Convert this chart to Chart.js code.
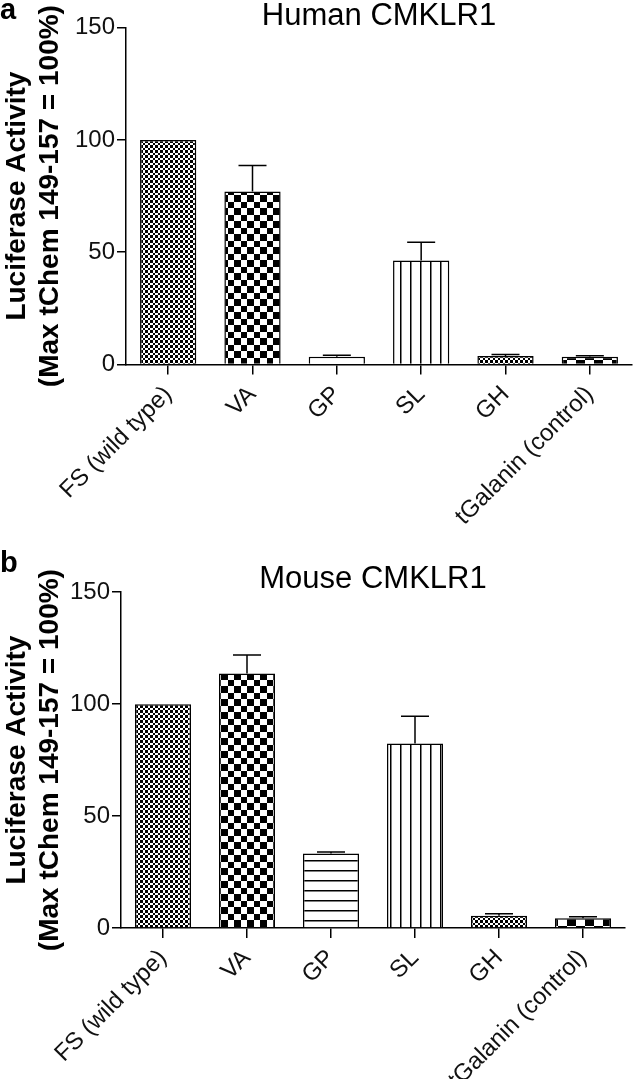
<!DOCTYPE html>
<html>
<head>
<meta charset="utf-8">
<script src="https://cdn.jsdelivr.net/npm/chart.js@4"></script>
<style>
  html, body { margin: 0; padding: 0; background: #fff; overflow: hidden; }
  .panel { position: absolute; left: 0; }
  #panelA { top: 0; }
  #panelB { top: 530px; }
</style>
</head>
<body>
<div class="panel" id="panelA"><canvas id="chartA" width="633" height="530"></canvas></div>
<div class="panel" id="panelB"><canvas id="chartB" width="633" height="549"></canvas></div>
<script>
const categories = ['FS (wild type)', 'VA', 'GP', 'SL', 'GH', 'tGalanin (control)'];
const humanMeans = [100, 77.0, 3.5, 46.3, 3.8, 3.5];
const humanErrors = [0, 11.6, 0.6, 8.1, 0.7, 0.4];
const mouseMeans = [100, 113.7, 33.3, 82.4, 5.5, 4.3];
const mouseErrors = [0, 8.3, 0.6, 12.2, 0.9, 0.7];
const yMin = 0;
const yMax = 150;
const yStep = 50;
const yTitle = ['Luciferase Activity', '(Max tChem 149-157 = 100%)'];

const FONT = "'Liberation Sans', Arial, Helvetica, sans-serif";

// fill patterns, one per bar
function checker(a, b) {
    const size = a + b;
    const c = document.createElement('canvas');
    c.width = size;
    c.height = size;
    const g = c.getContext('2d');
    g.fillStyle = '#fff';
    g.fillRect(0, 0, size, size);
    g.fillStyle = '#000';
    g.fillRect(0, 0, a, a);
    g.fillRect(a, a, b, b);
    return g.createPattern(c, 'repeat');
}

function stripes(step, vertical) {
    const c = document.createElement('canvas');
    c.width = step;
    c.height = step;
    const g = c.getContext('2d');
    g.fillStyle = '#fff';
    g.fillRect(0, 0, step, step);
    g.fillStyle = '#000';
    if (vertical) {
        g.fillRect(0, 0, 1.5, step);
    } else {
        g.fillRect(0, 0, step, 1.5);
    }
    return g.createPattern(c, 'repeat');
}

const fineChecker = checker(3, 2);
const midChecker = checker(7, 6);
const bigChecker = checker(9, 9);
const hLines = stripes(10, false);
const vLines = stripes(10, true);

const humanFills = [fineChecker, midChecker, '#fff', vLines, fineChecker, bigChecker];
const mouseFills = [fineChecker, midChecker, hLines, vLines, fineChecker, bigChecker];

const errorBars = {
    id: 'errorBars',
    afterDatasetsDraw(chart, args, opts) {
        const meta = chart.getDatasetMeta(0);
        const values = chart.data.datasets[0].data;
        const yScale = chart.scales.y;
        const ctx = chart.ctx;
        ctx.save();
        ctx.strokeStyle = '#000';
        ctx.lineWidth = 1.5;
        meta.data.forEach((bar, i) => {
            const err = opts.errors[i];
            if (!err) {
                return;
            }
            const top = yScale.getPixelForValue(values[i] + err);
            ctx.beginPath();
            ctx.moveTo(bar.x, bar.y);
            ctx.lineTo(bar.x, top);
            ctx.moveTo(bar.x - opts.cap / 2, top);
            ctx.lineTo(bar.x + opts.cap / 2, top);
            ctx.stroke();
        });
        ctx.restore();
    }
};

const panelLetter = {
    id: 'panelLetter',
    afterDraw(chart, args, opts) {
        const ctx = chart.ctx;
        ctx.save();
        ctx.fillStyle = '#000';
        ctx.font = 'bold 29px ' + FONT;
        ctx.textBaseline = 'alphabetic';
        ctx.fillText(opts.text, opts.x, opts.y);
        ctx.restore();
    }
};

function makePanel(id, { title, means, errors, fills, letter, letterY, yWidth, xHeight, padding, titlePad }) {
    return new Chart(document.getElementById(id), {
        type: 'bar',
        data: {
            labels: categories,
            datasets: [{
                data: means,
                backgroundColor: fills,
                borderColor: '#000',
                borderWidth: 1.5,
                barPercentage: 0.667,
                categoryPercentage: 1,
            }]
        },
        plugins: [errorBars, panelLetter],
        options: {
            responsive: false,
            animation: false,
            layout: { padding },
            plugins: {
                legend: { display: false },
                tooltip: { enabled: false },
                title: {
                    display: true,
                    text: title,
                    fullSize: false,
                    color: '#000',
                    font: { family: FONT, size: 31, weight: 'normal', lineHeight: 0.7 },
                    padding: titlePad
                },
                errorBars: { errors, cap: 28 },
                panelLetter: { text: letter, x: 0, y: letterY }
            },
            scales: {
                x: {
                    grid: {
                        offset: false,
                        drawOnChartArea: false,
                        drawTicks: true,
                        tickLength: 10,
                        color: '#000',
                        lineWidth: 1.5
                    },
                    border: { color: '#000', width: 1.5 },
                    ticks: {
                        autoSkip: false,
                        minRotation: 45,
                        maxRotation: 45,
                        padding: 6,
                        color: '#111',
                        font: { family: FONT, size: 24 }
                    },
                    afterFit(scale) {
                        scale.height = xHeight;
                    }
                },
                y: {
                    min: yMin,
                    max: yMax,
                    grid: {
                        drawOnChartArea: false,
                        drawTicks: true,
                        tickLength: 9,
                        color: '#000',
                        lineWidth: 1.5
                    },
                    border: { color: '#000', width: 1.5 },
                    ticks: {
                        stepSize: yStep,
                        padding: 2,
                        color: '#111',
                        font: { family: FONT, size: 24 }
                    },
                    title: {
                        display: true,
                        text: yTitle,
                        color: '#000',
                        font: { family: FONT, size: 28, weight: 'bold', lineHeight: 1.18 },
                        padding: { top: 1, bottom: 0 }
                    },
                    afterFit(scale) {
                        scale.width = yWidth;
                    }
                }
            }
        }
    });
}

makePanel('chartA', {
    title: 'Human CMKLR1',
    means: humanMeans,
    errors: humanErrors,
    fills: humanFills,
    letter: 'a',
    letterY: 19,
    yWidth: 126,
    xHeight: 165.5,
    padding: { top: 0, right: 1, left: 0, bottom: 0 },
    titlePad: { top: 6, bottom: 0 }
});

makePanel('chartB', {
    title: 'Mouse CMKLR1',
    means: mouseMeans,
    errors: mouseErrors,
    fills: mouseFills,
    letter: 'b',
    letterY: 42,
    yWidth: 121,
    xHeight: 151,
    padding: { top: 38.5, right: 8, left: 0, bottom: 0 },
    titlePad: { top: 0, bottom: 2 }
});
</script>
</body>
</html>
